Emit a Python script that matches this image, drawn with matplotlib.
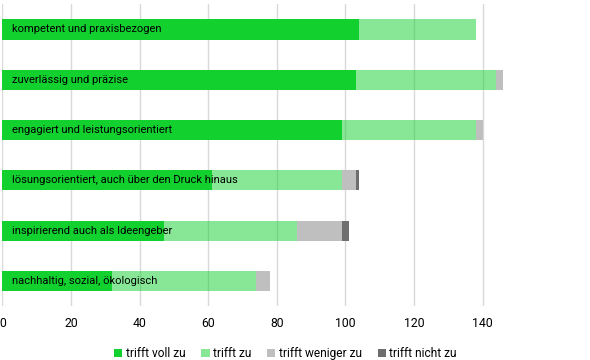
import matplotlib.pyplot as plt
import numpy as np

plt.rcParams['font.family'] = ['Roboto', 'DejaVu Sans']

# Kategorien (von oben nach unten)
kategorien = [
    'kompetent und praxisbezogen',
    'zuverlässig und präzise',
    'engagiert und leistungsorientiert',
    'lösungsorientiert, auch über den Druck hinaus',
    'inspirierend auch als Ideengeber',
    'nachhaltig, sozial, ökologisch',
]
trifft_voll_zu = [104, 103, 99, 61, 47, 32]
trifft_zu = [34, 41, 39, 38, 39, 42]
trifft_weniger_zu = [0, 2, 2, 4, 13, 4]
trifft_nicht_zu = [0, 0, 0, 1, 2, 0]
x_ticks = [0, 20, 40, 60, 80, 100, 120, 140]

serien = [
    ('trifft voll zu', trifft_voll_zu, '#12D12E', 1.0),
    ('trifft zu', trifft_zu, '#12D12E', 0.5),
    ('trifft weniger zu', trifft_weniger_zu, '#BFBFBF', 1.0),
    ('trifft nicht zu', trifft_nicht_zu, '#6E6E6E', 1.0),
]

fig = plt.figure(figsize=(5.9, 3.6), dpi=100)
ax = fig.add_axes([0.004, 0.15, 1.0, 0.838])

y = np.arange(len(kategorien))
left = np.zeros(len(kategorien))
for name, werte, farbe, alpha in serien:
    ax.barh(y, werte, left=left, height=0.4, color=farbe, alpha=alpha,
            label=name, zorder=2)
    left += np.array(werte)

for i, text in enumerate(kategorien):
    ax.text(2.7, y[i], text, va='center', ha='left', fontsize=8.0,
            color='black', zorder=4)

ax.set_ylim(len(kategorien) - 0.5, -0.5)
ax.set_xlim(0, 172)
ax.set_xticks(x_ticks)
ax.set_yticks([])
ax.grid(axis='x', color='#D9D9D9', linewidth=1, zorder=1)
ax.set_axisbelow(True)
for s in ax.spines.values():
    s.set_visible(False)
ax.tick_params(axis='x', length=0, labelsize=8.8, pad=8)

ax.legend(loc='upper center', bbox_to_anchor=(0.48, -0.1), ncol=4,
          frameon=False, fontsize=8.6, handlelength=0.7, handleheight=0.7,
          handletextpad=0.3, columnspacing=1.3)

fig.savefig('out.png', dpi=100)
